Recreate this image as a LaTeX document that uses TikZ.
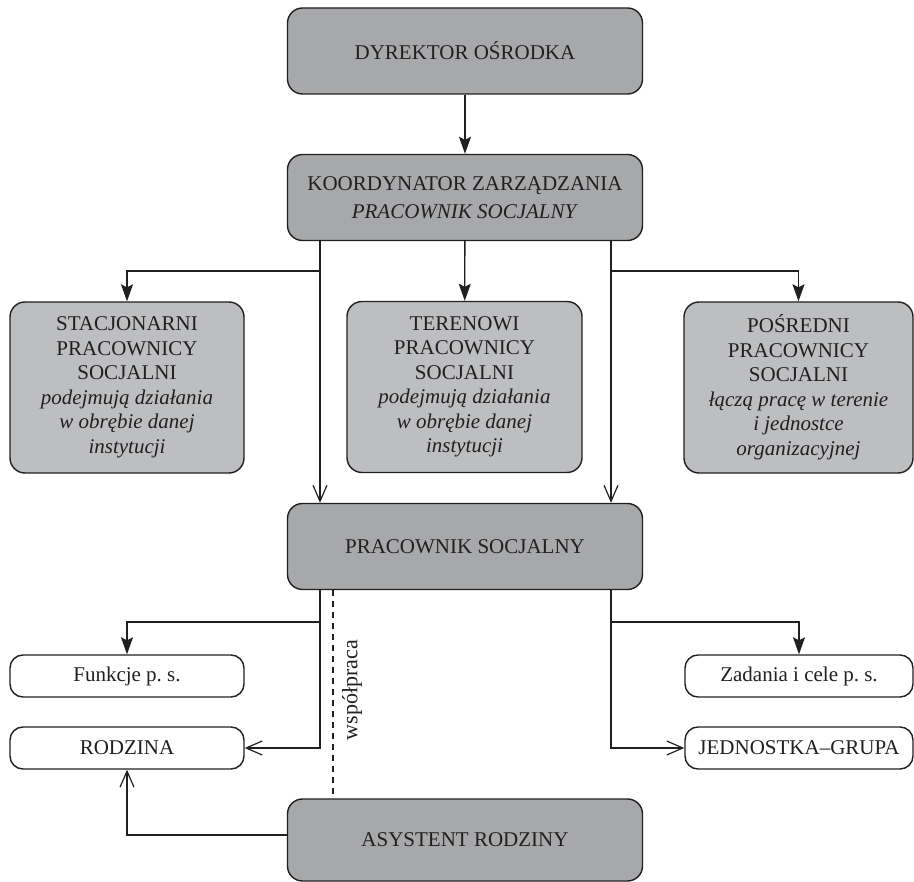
\documentclass[tikz,border=0pt]{standalone}
\usepackage{fontspec}
\setmainfont{Liberation Serif}
\usetikzlibrary{arrows.meta}
\definecolor{darkbox}{HTML}{A7A8AA}
\definecolor{lightbox}{HTML}{BCBEC0}
\definecolor{ink}{HTML}{231F20}
\frenchspacing
\begin{document}
\begin{tikzpicture}[x=1pt,y=-1pt,
  every node/.style={font=\fontsize{21}{24.5}\selectfont, text=ink},
  base/.style={draw=ink, line width=1.4pt, inner sep=0pt, align=center},
  bigbox/.style={base, fill=darkbox, rounded corners=15pt, minimum width=355pt, minimum height=86pt},
  midbox/.style={base, fill=lightbox, rounded corners=15pt, minimum height=171pt},
  smallbox/.style={base, fill=white, rounded corners=13pt, minimum height=42pt},
  conn/.style={draw=ink, line width=1.3pt},
  filled/.style={conn, -{Stealth[length=17pt,width=12pt,inset=3pt]}},
  open/.style={conn, -{Straight Barb[length=16pt,width=14pt,line width=1.2pt]}},
  dash line/.style={draw=ink, line width=1.3pt, dash pattern=on 6pt off 5pt}
]
\useasboundingbox (0,0) rectangle (914,882);

\node[bigbox] (dir) at (465,51) {DYREKTOR OŚRODKA};
\node[bigbox, font=\fontsize{21}{28.5}\selectfont] (koor) at (465,197.5) {KOORDYNATOR ZARZĄDZANIA\\\textit{PRACOWNIK SOCJALNY}};
\node[midbox, minimum width=234pt] (sta) at (127,387.5) {STACJONARNI\\PRACOWNICY\\SOCJALNI\\\textit{podejmują działania}\\\textit{w obrębie danej}\\\textit{instytucji}};
\node[midbox, minimum width=235pt] (ter) at (464.5,387) {TERENOWI\\PRACOWNICY\\SOCJALNI\\\textit{podejmują działania}\\\textit{w obrębie danej}\\\textit{instytucji}};
\node[midbox, minimum width=229pt] (pos) at (798.5,387.5) {POŚREDNI\\PRACOWNICY\\SOCJALNI\\\textit{łączą pracę w terenie}\\\textit{i jednostce}\\\textit{organizacyjnej}};
\node[bigbox] (ps) at (465,546.5) {PRACOWNIK SOCJALNY};
\node[smallbox, minimum width=234pt] (fun) at (127,676) {Funkcje p. s.};
\node[smallbox, minimum width=234pt] (rod) at (127,748) {RODZINA};
\node[smallbox, minimum width=228pt] (zad) at (799,676) {Zadania i cele p. s.};
\node[smallbox, minimum width=228pt] (jed) at (799,748) {JEDNOSTKA–GRUPA};
\node[bigbox, minimum height=82pt] (asy) at (465,840) {ASYSTENT RODZINY};

\coordinate (xl) at (320,0);
\coordinate (xr) at (611,0);
\coordinate (xd) at (333,0);
\coordinate (b1) at (320,271);
\coordinate (b2) at (611,271);
\coordinate (c1) at (320,622);
\coordinate (c2) at (611,622);

\draw[filled] (dir) -- (koor);
\draw[filled] (koor) -- (ter);
\draw[filled] (b1) -| (sta.north);
\draw[filled] (b2) -| (pos.north);
\draw[open] (koor.south -| xl) -- (ps.north -| xl);
\draw[open] (koor.south -| xr) -- (ps.north -| xr);

\draw[filled] (c1) -| (fun.north);
\draw[filled] (c2) -| (zad.north);
\draw[open] (ps.south -| xl) |- (rod.east);
\draw[open] (ps.south -| xr) |- (jed.west);
\draw[open] ([yshift=5pt]asy.west) -| (rod.south);
\draw[dash line] (ps.south -| xd) -- (asy.north -| xd);
\node[rotate=90, font=\fontsize{22}{26}\selectfont] (wsp) at (352,690) {współpraca};
\end{tikzpicture}
\end{document}
